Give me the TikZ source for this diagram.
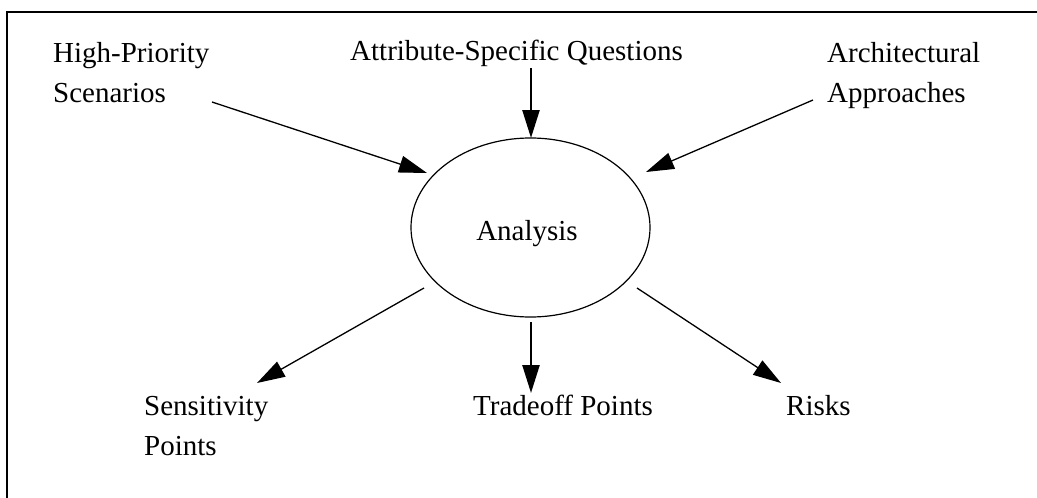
\documentclass[tikz,border=0pt]{standalone}
\usepackage{fontspec}
\setmainfont{Liberation Serif}
\usetikzlibrary{arrows.meta,shapes.geometric}
\begin{document}
\begin{tikzpicture}[x=1pt,y=-1pt,
  lbl/.style={font=\fontsize{29}{40}\selectfont, inner sep=0pt, anchor=base west, align=left},
  thin arrow/.style={line width=1.3pt, -{Triangle[length=28pt,width=17pt]}},
  thick arrow/.style={line width=2.4pt, -{Triangle[length=28pt,width=17pt]}},
  frame/.style={line width=2.6pt}]
\useasboundingbox (0,0) rectangle (1037,498);
\draw[frame] (7,498) -- (7,12) -- (1037,12);
% ellipse
\node[draw, ellipse, line width=1.2pt, minimum width=239pt, minimum height=179pt, inner sep=0pt] (ana) at (530.5,227.5) {};
\node[font=\fontsize{29}{30}\selectfont, inner sep=0pt, anchor=base] (analab) at (527,240) {Analysis};
% labels (multi-line nodes are anchored at the baseline of their last line)
\node[lbl] (hps) at (53,102) {High-Priority\\Scenarios};
\node[lbl] (asq) at (350,60) {Attribute-Specific Questions};
\node[lbl] (aa) at (827,102) {Architectural\\Approaches};
\node[lbl] (sp) at (144,455) {Sensitivity\\Points};
\node[lbl] (tp) at (473,415) {Tradeoff Points};
\node[lbl] (rk) at (786,415) {Risks};
% connector ends
\coordinate (hpsE) at (212,102);
\coordinate (anaNW) at (427,173);
\coordinate (asqS) at (531,68);
\coordinate (anaN) at (531,138);
\coordinate (aaW) at (813,100);
\coordinate (anaNE) at (646,172);
\coordinate (anaSW) at (424,288);
\coordinate (spNE) at (257,383);
\coordinate (anaS) at (531,322);
\coordinate (tpN) at (531,393);
\coordinate (anaSE) at (637,288);
\coordinate (rkNW) at (781,383);
\draw[thin arrow] (hpsE) -- (anaNW);
\draw[thick arrow] (asqS) -- (anaN);
\draw[thin arrow] (aaW) -- (anaNE);
\draw[thin arrow] (anaSW) -- (spNE);
\draw[thick arrow] (anaS) -- (tpN);
\draw[thin arrow] (anaSE) -- (rkNW);
\end{tikzpicture}
\end{document}
